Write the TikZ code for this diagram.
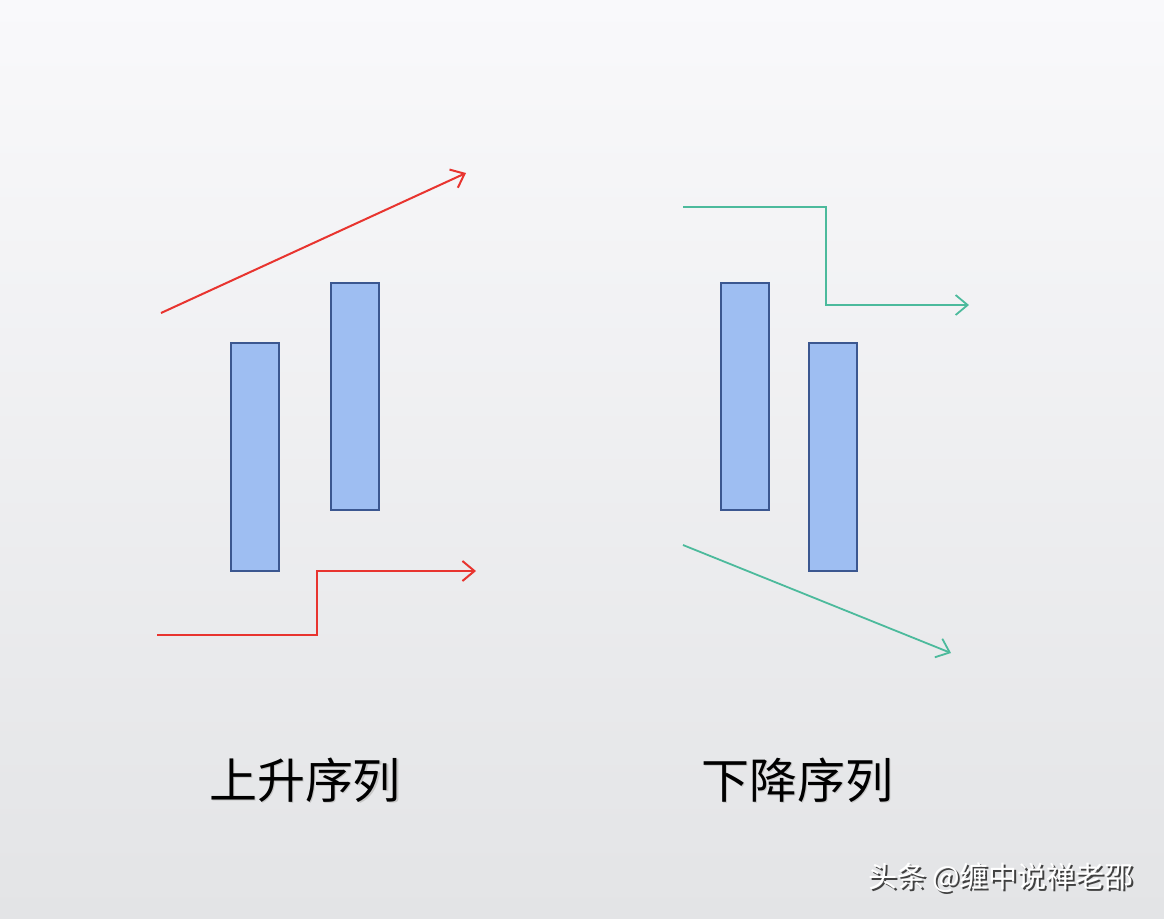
\documentclass[tikz,border=0pt]{standalone}
\usepackage{fontspec}
\setmainfont{Noto Sans CJK SC}
\usetikzlibrary{arrows.meta}
\definecolor{barfill}{HTML}{9EBEF2}
\definecolor{bardraw}{HTML}{3B5790}
\definecolor{upred}{HTML}{E8342F}
\definecolor{downgreen}{HTML}{4CBA9C}
\definecolor{bgtop}{HTML}{F9F9FB}
\definecolor{bgbot}{HTML}{E3E4E6}
\begin{document}
\begin{tikzpicture}[x=0.5pt,y=-0.5pt,
  bar/.style={draw=bardraw,line width=0.8pt,fill=barfill,minimum width=24pt,inner sep=0pt,outer sep=0pt},
  uparrow/.style={draw=upred,line width=1pt,-{Straight Barb[length=6pt,width=10pt]}},
  downarrow/.style={draw=downgreen,line width=0.9pt,-{Straight Barb[length=6pt,width=10pt]}},
  title/.style={font=\fontsize{24pt}{24pt}\selectfont,text=black,inner sep=0pt},
  titleshadow/.style={font=\fontsize{24pt}{24pt}\selectfont,text=black!22,inner sep=0pt},
  wmtext/.style={font=\fontsize{14.5pt}{14.5pt}\selectfont,text=white,inner sep=0pt},
  wmshadow/.style={font=\fontsize{14.5pt}{14.5pt}\selectfont,text=black!75,inner sep=0pt}]
\shade[top color=bgtop,bottom color=bgbot] (0,0) rectangle (1164,918);
\useasboundingbox (0,0) rectangle (1164,918);
% bars
\node[bar,minimum height=114pt] (ub1) at (255,457) {};
\node[bar,minimum height=113.5pt] (ub2) at (355,396.5) {};
\node[bar,minimum height=113.5pt] (db1) at (745,396.5) {};
\node[bar,minimum height=114pt] (db2) at (833,457) {};
% rising arrows
\coordinate (ua1s) at (161,313);
\coordinate (ua1e) at (466,173);
\draw[uparrow] (ua1s) -- (ua1e);
\coordinate (ua2s) at (157,635);
\coordinate (ua2a) at (317,635);
\coordinate (ua2b) at (317,571);
\coordinate (ua2e) at (476,571);
\draw[uparrow] (ua2s) -- (ua2a) -- (ua2b) -- (ua2e);
% falling arrows
\coordinate (da1s) at (683,207);
\coordinate (da1a) at (826,207);
\coordinate (da1b) at (826,305);
\coordinate (da1e) at (969,305);
\draw[downarrow] (da1s) -- (da1a) -- (da1b) -- (da1e);
\coordinate (da2s) at (683,545);
\coordinate (da2e) at (951,653);
\draw[downarrow] (da2s) -- (da2e);
% titles
\node[titleshadow] at (306.5,781.5) {上升序列};
\node[title] (ut) at (305,780) {上升序列};
\node[titleshadow] at (798.5,781.5) {下降序列};
\node[title] (dt) at (797,780) {下降序列};
% watermark
\node[wmshadow] at (1003,880) {头条 @缠中说禅老邵};
\node[wmtext] (wm) at (1001,878) {头条 @缠中说禅老邵};
\end{tikzpicture}
\end{document}
